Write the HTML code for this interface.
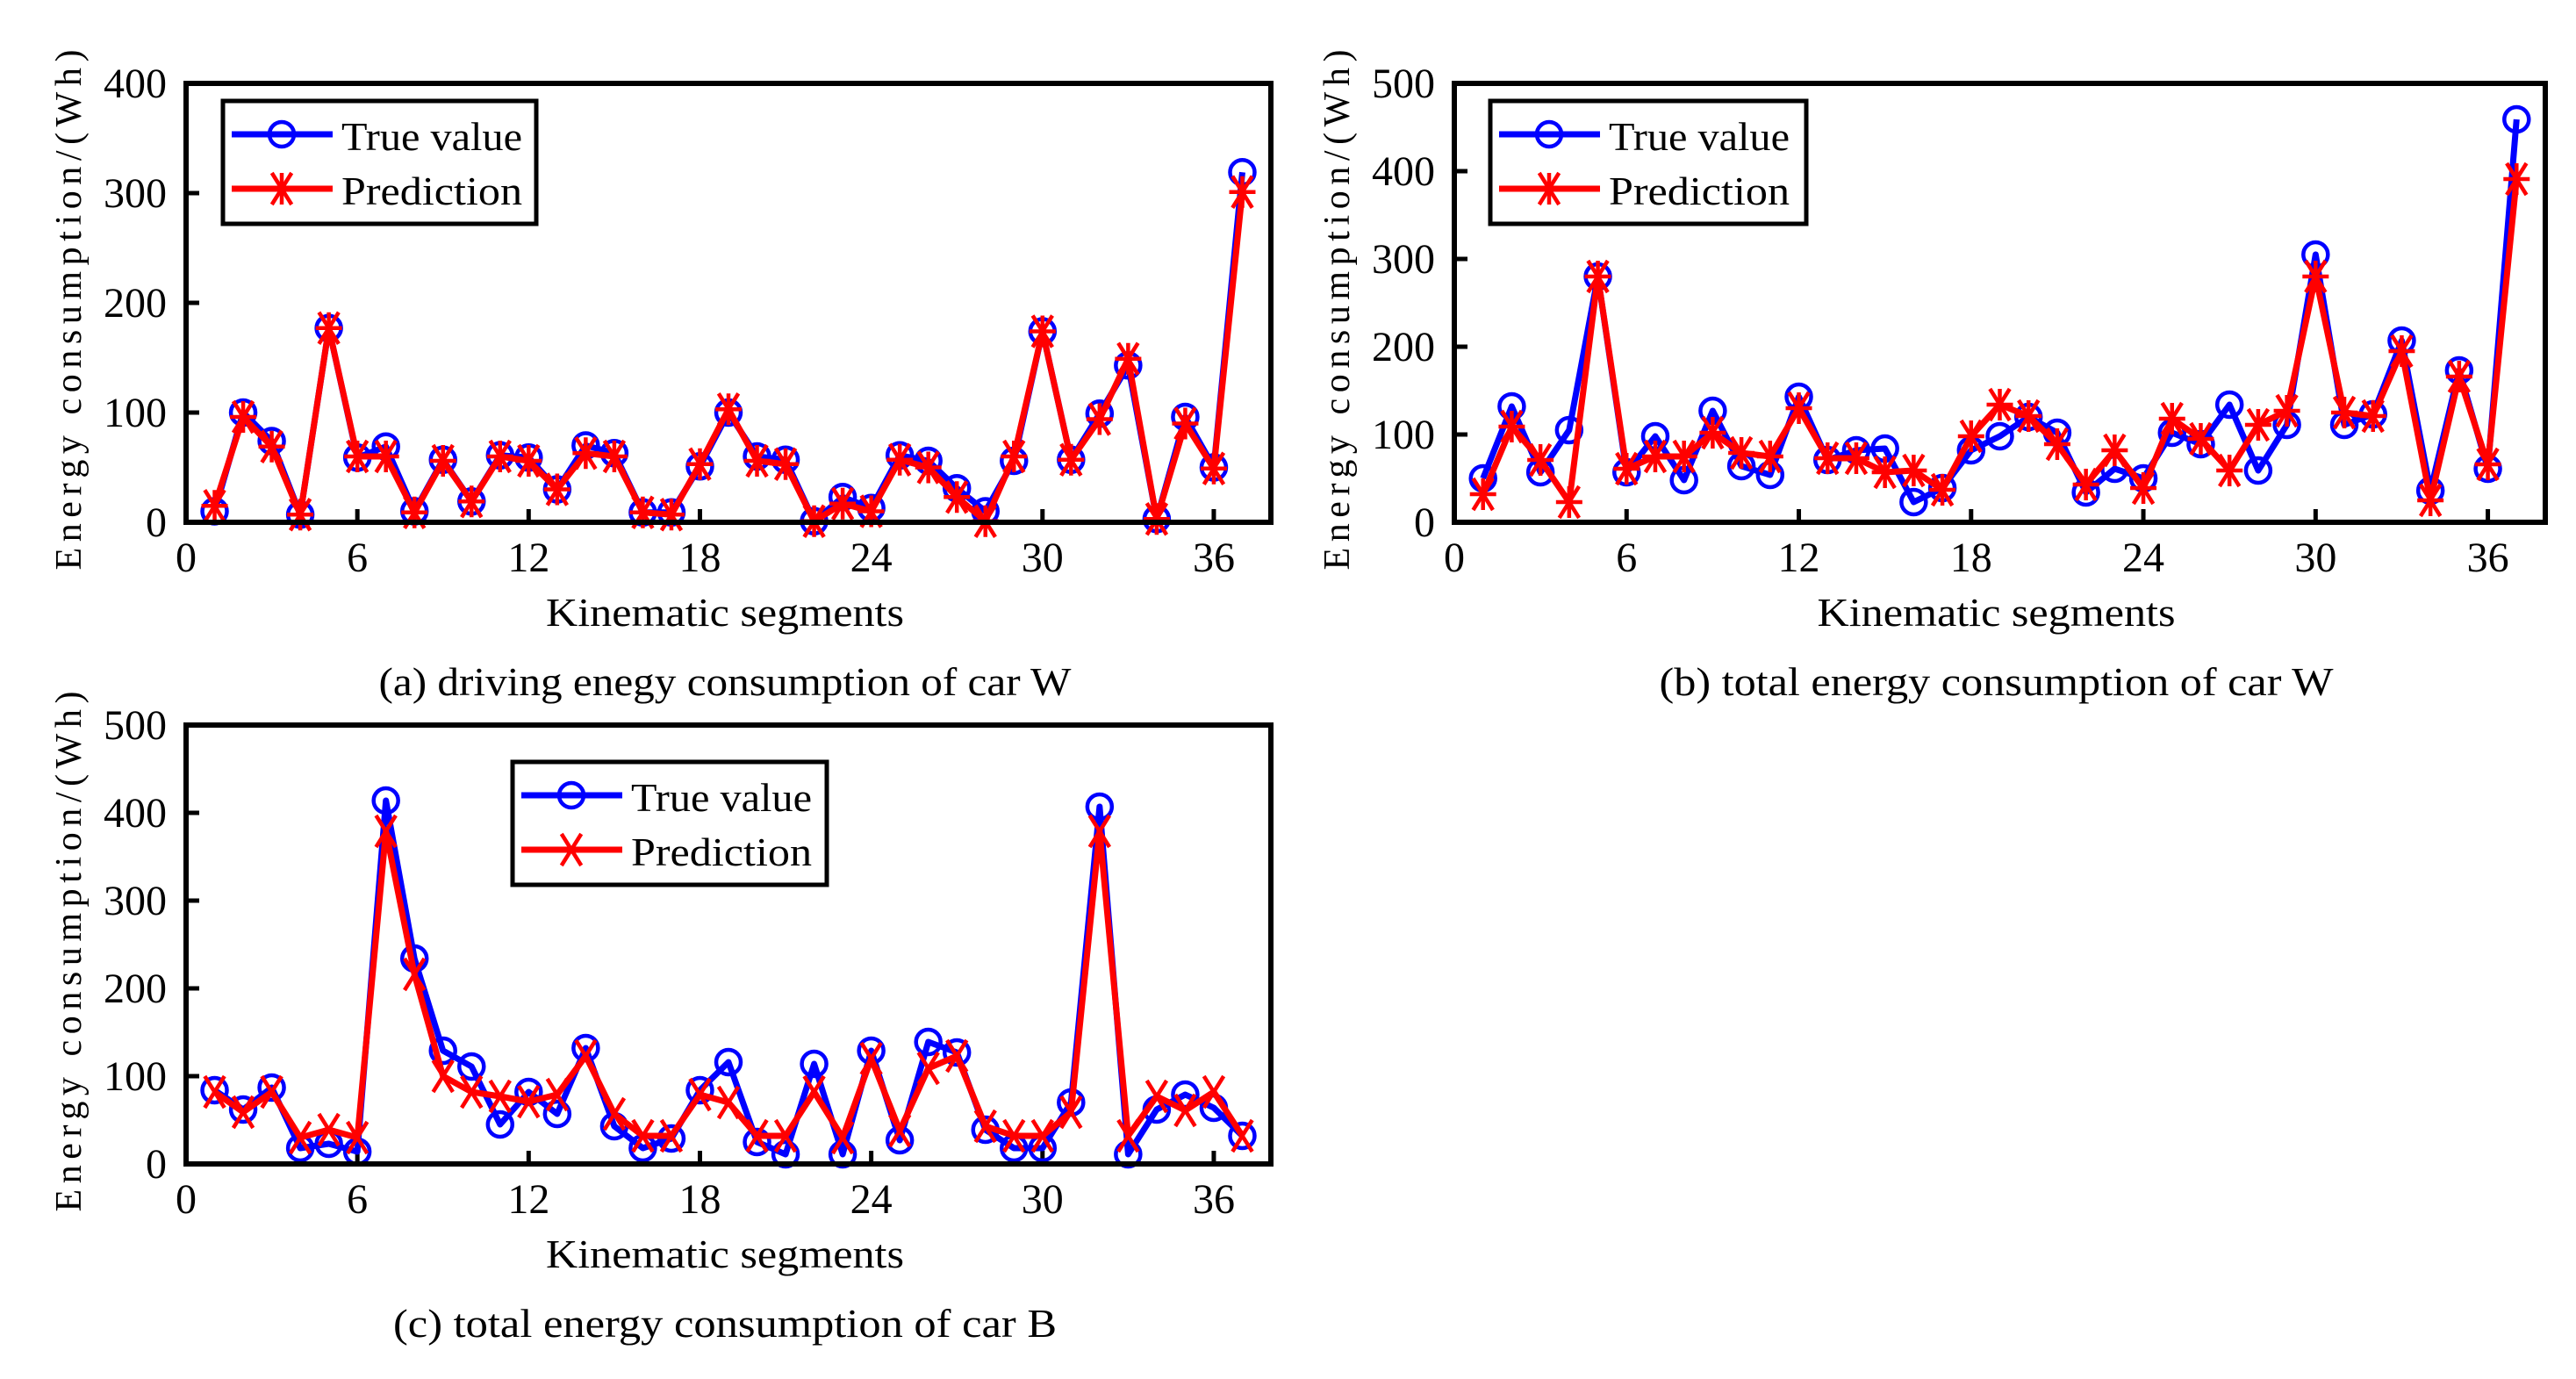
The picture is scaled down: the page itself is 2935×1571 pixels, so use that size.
<!DOCTYPE html>
<html><head><meta charset="utf-8"><style>
html,body{margin:0;padding:0;background:#fff;}
svg{display:block;font-family:"Liberation Serif","Noto Serif CJK SC",serif;}
</style></head><body>
<svg id="fig" width="2935" height="1571" viewBox="0 0 2935 1571" xmlns="http://www.w3.org/2000/svg"></svg>
<script>
const segments = [1,2,3,4,5,6,7,8,9,10,11,12,13,14,15,16,17,18,19,20,21,22,23,24,25,26,27,28,29,30,31,32,33,34,35,36,37];
const xTicks = [0,6,12,18,24,30,36];
const aTrue = [10,100,74,7,177,59,69,10,57,19,61,59,30,70,63,9,9,51,100,60,57,1,23,13,61,56,31,10,56,174,57,99,143,3,96,50,319];
const aPred = [15,96,69,7,177,60,60,9,56,19,60,56,30,63,60,9,7,53,103,56,53,1,17,10,57,50,23,1,60,174,57,94,149,3,90,49,301];
const aYTicks = [0,100,200,300,400];
const bTrue = [50,132,57,105,280,57,98,48,127,64,54,143,71,82,84,23,39,82,98,120,102,34,61,50,102,89,134,59,111,305,111,123,207,36,173,61,459];
const bPred = [32,109,71,23,280,61,75,75,102,79,75,130,73,73,57,59,37,98,134,121,89,43,82,39,118,95,59,111,127,280,125,121,195,25,166,66,391];
const bYTicks = [0,100,200,300,400,500];
const cTrue = [84,62,87,18,23,14,414,234,129,111,45,82,57,132,43,18,29,84,116,25,11,114,11,129,27,139,127,39,18,18,70,407,11,62,79,64,32];
const cPred = [82,59,82,30,39,30,379,216,100,82,77,71,79,123,57,32,32,79,70,32,32,82,30,120,38,109,123,43,32,32,59,379,32,77,61,82,32];
const cYTicks = [0,100,200,300,400,500];

const NS = "http://www.w3.org/2000/svg";
const fig = document.getElementById('fig');
function mk(tag, attrs, parent){
  const e = document.createElementNS(NS, tag);
  for (const k in attrs) e.setAttribute(k, attrs[k]);
  (parent||fig).appendChild(e);
  return e;
}
function marker(g, kind, x, y, col){
  if (kind==='o'){
    const c = mk('circle',{cx:x,cy:y,r:14,fill:'none',stroke:col,'stroke-width':4.5},g);
    
    
  } else {
    const p = mk('g',{stroke:col,'stroke-width':4.5,fill:'none'},g);
    
    
    const s=15;
    if (kind==='*'){
      mk('line',{x1:x-s,y1:y,x2:x+s,y2:y},p);
      mk('line',{x1:x,y1:y-s-3,x2:x,y2:y+s+3},p);
    }
    mk('line',{x1:x-s*0.75,y1:y-s-3,x2:x+s*0.75,y2:y+s+3},p);
    mk('line',{x1:x-s*0.75,y1:y+s+3,x2:x+s*0.75,y2:y-s-3},p);
  }
}
function chart(o){
  const g = mk('g',{});
  
  
  const L=o.L,R=o.R,T=o.T,B=o.B,xmax=38,ymax=o.yTicks[o.yTicks.length-1];
  const xs = v => L + v/xmax*(R-L);
  const ys = v => B - v/ymax*(B-T);
  o.yTicks.forEach(t=>{
    mk('line',{x1:L,y1:ys(t),x2:L+15,y2:ys(t),stroke:'#000','stroke-width':5},g);
    const tx = mk('text',{x:L-22,y:ys(t)+16,'font-size':48,'text-anchor':'end'},g);
    tx.textContent=t;
    
    
  });
  xTicks.forEach(t=>{
    mk('line',{x1:xs(t),y1:B,x2:xs(t),y2:B-15,stroke:'#000','stroke-width':5},g);
    const tx = mk('text',{x:xs(t),y:B+56,'font-size':48,'text-anchor':'middle'},g);
    tx.textContent=t;
    
    
  });
  const tpts = segments.map((s,i)=>xs(s)+','+ys(o.tr[i])).join(' ');
  const ppts = segments.map((s,i)=>xs(s)+','+ys(o.pr[i])).join(' ');
  const tl = mk('polyline',{points:tpts,fill:'none',stroke:'#0000ff','stroke-width':7,'stroke-linejoin':'round'},g);
  
  
  segments.forEach((s,i)=>marker(g,'o',xs(s),ys(o.tr[i]),'#0000ff'));
  const pl = mk('polyline',{points:ppts,fill:'none',stroke:'#ff0000','stroke-width':7,'stroke-linejoin':'round'},g);
  
  
  segments.forEach((s,i)=>marker(g,o.pm,xs(s),ys(o.pr[i]),'#ff0000'));
  const fr = mk('rect',{x:L,y:T,width:R-L,height:B-T,fill:'none',stroke:'#000','stroke-width':6},g);
  
  
  const yt = mk('text',{x:0,y:0,'font-size':42,'text-anchor':'middle',textLength:593,lengthAdjust:'spacing',transform:`translate(${L-120},${(T+B)/2+8}) rotate(-90)`},g);
  yt.textContent='Energy consumption/(Wh)';
  
  
  const xt = mk('text',{x:(L+R)/2-4,y:B+118,'font-size':46,'text-anchor':'middle',textLength:408,lengthAdjust:'spacingAndGlyphs'},g);
  xt.textContent='Kinematic segments';
  
  
  const cp = mk('text',{x:(L+R)/2-4,y:B+197,'font-size':46,'text-anchor':'middle',textLength:o.capW,lengthAdjust:'spacingAndGlyphs'},g);
  cp.textContent=o.caption;
  
  
  const lg = mk('g',{},g);
  
  
  const Lx=o.lg[0],Ly=o.lg[1];
  mk('rect',{x:Lx,y:Ly,width:o.lg[2],height:140,fill:'#fff',stroke:'#000','stroke-width':5},lg);
  const e1 = mk('g',{},lg);
  
  
  mk('line',{x1:Lx+10,y1:Ly+38,x2:Lx+125,y2:Ly+38,stroke:'#0000ff','stroke-width':7},e1);
  marker(e1,'o',Lx+67,Ly+38,'#0000ff');
  const t1 = mk('text',{x:Lx+135,y:Ly+56,'font-size':46,textLength:206,lengthAdjust:'spacingAndGlyphs'},e1);
  t1.textContent='True value';
  const e2 = mk('g',{},lg);
  
  
  mk('line',{x1:Lx+10,y1:Ly+100,x2:Lx+125,y2:Ly+100,stroke:'#ff0000','stroke-width':7},e2);
  marker(e2,o.pm,Lx+67,Ly+100,'#ff0000');
  const t2 = mk('text',{x:Lx+135,y:Ly+118,'font-size':46,textLength:206,lengthAdjust:'spacingAndGlyphs'},e2);
  t2.textContent='Prediction';
}
chart({name:'chart-a',L:212,R:1448,T:95,B:595,yTicks:aYTicks,tr:aTrue,pr:aPred,pm:'*',caption:'(a) driving enegy consumption of car W',capW:789,lg:[254,115,357]});
chart({name:'chart-b',L:1657,R:2900,T:95,B:595,yTicks:bYTicks,tr:bTrue,pr:bPred,pm:'*',caption:'(b) total energy consumption of car W',capW:768,lg:[1698,115,360]});
chart({name:'chart-c',L:212,R:1448,T:826,B:1326,yTicks:cYTicks,tr:cTrue,pr:cPred,pm:'x',caption:'(c) total energy consumption of car B',capW:756,lg:[584,868,358]});
</script>
</body></html>
